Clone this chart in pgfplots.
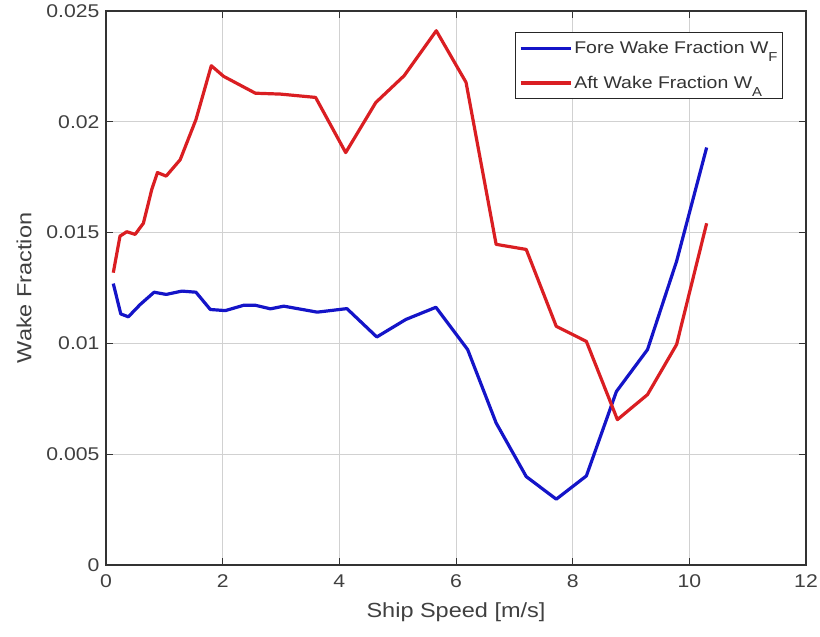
\documentclass[border=0pt]{standalone}
\usepackage{pgfplots}
\pgfplotsset{compat=1.18}
\usepackage{fontspec}
\setmainfont[FakeStretch=1.15]{Liberation Sans}

\definecolor{foreblue}{RGB}{20,20,200}
\definecolor{aftred}{RGB}{218,30,34}

\newcommand{\sub}[1]{\raisebox{-0.45em}{\fontsize{13}{13}\selectfont #1}}

\begin{document}
\begin{tikzpicture}
\useasboundingbox (-106bp,-72bp) rectangle (714bp,565bp);
\begin{axis}[
  scale only axis,
  width=700bp, height=554bp,
  at={(0,0)}, anchor=south west,
  xmin=0, xmax=12, ymin=0, ymax=0.025,
  xtick={0,2,4,6,8,10,12},
  ytick={0,0.005,0.01,0.015,0.02,0.025},
  yticklabels={0,0.005,0.01,0.015,0.02,0.025},
  scaled y ticks=false,
  /pgf/number format/assume math mode=true,
  tick align=inside,
  major tick length=7bp,
  tick style={black!80, line width=0.8bp},
  axis line style={black!80, line width=1.1bp},
  grid=major,
  major grid style={black!18, line width=0.7bp},
  ticklabel style={font=\fontsize{18.5}{18.5}\selectfont, text=black!75},
  xticklabel style={yshift=-6bp},
  yticklabel style={xshift=-3bp},
  xlabel={Ship Speed [m/s]},
  ylabel={Wake Fraction},
  label style={font=\fontsize{20.5}{20.5}\selectfont, text=black!75},
  xlabel style={yshift=-8bp},
  ylabel style={yshift=8bp},
  legend style={at={(1,1)}, anchor=north east, xshift=-23bp, yshift=-21bp,
    draw=black!85, line width=1bp, fill=white,
    font=\fontsize{17}{17}\selectfont, text=black!80,
    inner xsep=3bp, inner ysep=7bp,
    row sep=17bp},
  legend cell align=left,
  legend image code/.code={\draw[#1, line width=3.5bp] (0bp,0bp) -- (50bp,0bp);},
]
\addplot[foreblue, line width=3.2bp, line join=round] coordinates {
(0.125,0.01270) (0.253,0.01133) (0.383,0.01120) (0.584,0.01175)
(0.825,0.01231) (1.031,0.01221) (1.301,0.01236) (1.542,0.01231)
(1.788,0.01153) (2.046,0.01148) (2.360,0.01172) (2.561,0.01172)
(2.819,0.01156) (3.048,0.01168) (3.622,0.01141) (4.130,0.01157)
(4.642,0.01029) (5.140,0.01108) (5.656,0.01163) (6.200,0.00972)
(6.688,0.00641) (7.204,0.00399) (7.719,0.00297) (8.235,0.00402)
(8.750,0.00783) (9.283,0.00972) (9.782,0.01371) (10.297,0.01884)
};
\addlegendentry{Fore Wake Fraction W\sub{F}}
\addplot[aftred, line width=3.2bp, line join=round] coordinates {
(0.125,0.01319) (0.240,0.01484) (0.356,0.01504) (0.499,0.01492)
(0.641,0.01542) (0.785,0.01695) (0.882,0.01771) (1.031,0.01755)
(1.272,0.01829) (1.542,0.02010) (1.805,0.02253) (2.017,0.02205)
(2.561,0.02129) (2.991,0.02125) (3.593,0.02110) (4.109,0.01861)
(4.625,0.02087) (5.111,0.02208) (5.662,0.02411) (6.172,0.02178)
(6.688,0.01447) (7.204,0.01424) (7.719,0.01077) (8.235,0.01009)
(8.767,0.00656) (9.283,0.00769) (9.782,0.00995) (10.297,0.01542)
};
\addlegendentry{Aft Wake Fraction W\sub{A}\rule[-14bp]{0pt}{1bp}}
\end{axis}
\end{tikzpicture}
\end{document}
